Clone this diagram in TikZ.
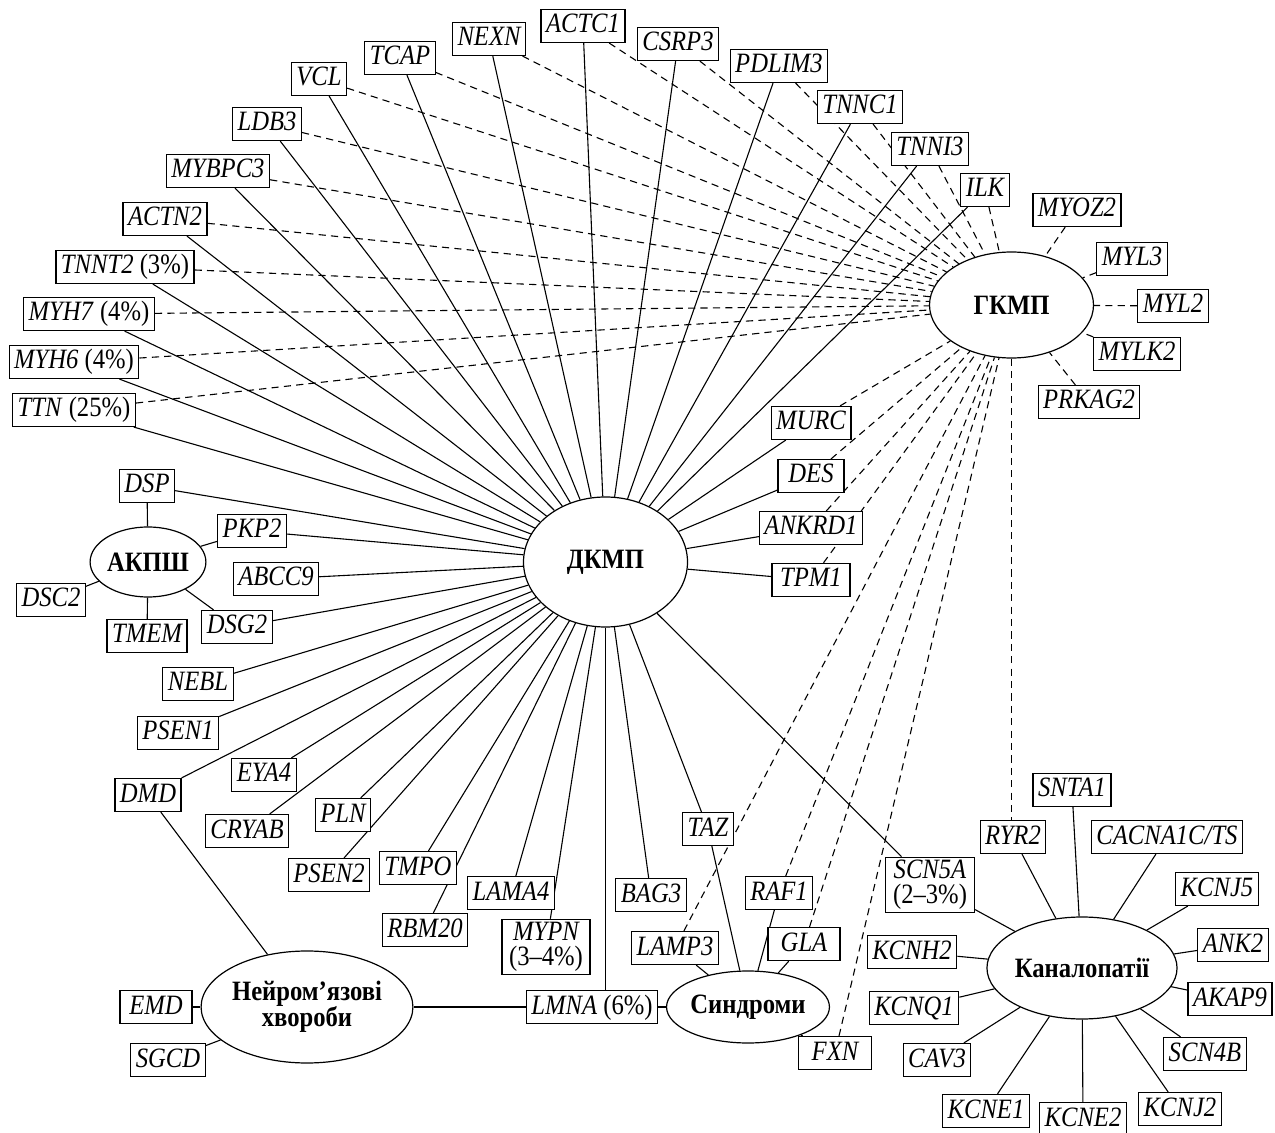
\documentclass[tikz,border=0pt]{standalone}
\usepackage{fontspec}
\setmainfont[FakeStretch=0.88]{Liberation Serif}
\usetikzlibrary{shapes.geometric,backgrounds}
\begin{document}
\begin{tikzpicture}[x=0.5pt,y=-0.5pt,
  gbase/.style={draw, line width=0.6pt, fill=white, font=\fontsize{14}{14.5}\selectfont\itshape,
    inner xsep=2.5pt, align=center},
  gene/.style={gbase, inner ysep=1.75pt, text height=10pt, text depth=3pt},
  gene2/.style={gbase, inner ysep=1.5pt},
  hub/.style={draw, ellipse, line width=0.6pt, fill=white, inner sep=0pt, align=center,
    font=\fontsize{14}{15}\selectfont\bfseries},
  link/.style={line width=0.55pt},
  hlink/.style={line width=0.55pt, dash pattern=on 3.6pt off 2.6pt}]
\useasboundingbox (0,0) rectangle (1275,1133);
% hubs
\node[hub, minimum width=82pt, minimum height=65pt] (DK) at (605.5,562) {ДКМП};
\node[hub, minimum width=82pt, minimum height=53pt] (GK) at (1011.5,305) {ГКМП};
\node[hub, minimum width=55pt, minimum height=35pt] (AK) at (148,562) {АКПШ};
\node[hub, minimum width=83.5pt, minimum height=56pt] (NE) at (307,1007) {Нейром’язові\\[-2pt]хвороби};
\node[hub, minimum width=62pt, minimum height=36pt] (SY) at (748,1007) {Синдроми};
\node[hub, minimum width=83.5pt, minimum height=51pt] (KA) at (1082,968) {Каналопатії};
% top arc
\node[gene] (TNNT2) at (125,267) {TNNT2 \textup{(3\%)}};
\node[gene] (ACTN2) at (165,219) {ACTN2};
\node[gene] (MYBPC3) at (218,171) {MYBPC3};
\node[gene] (LDB3) at (267,124) {LDB3};
\node[gene] (VCL) at (319,79) {VCL};
\node[gene] (TCAP) at (400,58) {TCAP};
\node[gene] (NEXN) at (489,39) {NEXN};
\node[gene] (ACTC1) at (583,26) {ACTC1};
\node[gene] (CSRP3) at (678,44) {CSRP3};
\node[gene] (PDLIM3) at (779,66) {PDLIM3};
\node[gene] (TNNC1) at (860,107) {TNNC1};
\node[gene] (TNNI3) at (930,149) {TNNI3};
\node[gene] (ILK) at (985,190) {ILK};
\node[gene] (MYOZ2) at (1077,210) {MYOZ2};
\node[gene] (MYL3) at (1132,259) {MYL3};
\node[gene] (MYL2) at (1173,306) {MYL2};
\node[gene] (MYLK2) at (1137,354) {MYLK2};
\node[gene] (PRKAG2) at (1089,402) {PRKAG2};
\node[gene] (MYH7) at (89,314) {MYH7 \textup{(4\%)}};
\node[gene] (MYH6) at (74,362) {MYH6 \textup{(4\%)}};
\node[gene] (TTN) at (74,410) {TTN \textup{(25\%)}};
% left
\node[gene] (DSP) at (147,486) {DSP};
\node[gene] (PKP2) at (252,531) {PKP2};
\node[gene] (ABCC9) at (276,579) {ABCC9};
\node[gene] (DSC2) at (51,600) {DSC2};
\node[gene] (TMEM) at (147,636) {TMEM};
\node[gene] (DSG2) at (237,627) {DSG2};
\node[gene] (NEBL) at (198,684) {NEBL};
\node[gene] (PSEN1) at (178,733) {PSEN1};
\node[gene] (DMD) at (148,795) {DMD};
\node[gene] (EYA4) at (264,775) {EYA4};
\node[gene] (CRYAB) at (247,831) {CRYAB};
\node[gene] (PLN) at (343,815) {PLN};
\node[gene] (PSEN2) at (329,875) {PSEN2};
\node[gene] (TMPO) at (418,868) {TMPO};
\node[gene] (LAMA4) at (511,893) {LAMA4};
\node[gene] (RBM20) at (425,930) {RBM20};
\node[gene2, minimum width=44pt] (MYPN) at (546,947) {MYPN\\[-2pt]\textup{(3--4\%)}};
\node[gene, minimum width=36pt] (EMD) at (156,1007) {EMD};
\node[gene] (SGCD) at (168,1060) {SGCD};
\node[gene] (LMNA) at (592,1007) {LMNA \textup{(6\%)}};
% bottom middle
\node[gene] (BAG3) at (651,895) {BAG3};
\node[gene] (TAZ) at (708,829) {TAZ};
\node[gene] (LAMP3) at (675,948) {LAMP3};
\node[gene] (RAF1) at (779,893) {RAF1};
\node[gene, minimum width=36pt] (GLA) at (804,944) {GLA};
\node[gene, minimum width=36.5pt] (FXN) at (835,1053) {FXN};
% right of DKMP
\node[gene, minimum width=39pt] (MURC) at (811,423) {MURC};
\node[gene, minimum width=33pt] (DES) at (811,476) {DES};
\node[gene] (ANKRD1) at (811,528) {ANKRD1};
\node[gene, minimum width=39pt] (TPM1) at (811,580) {TPM1};
% channelopathies
\node[gene] (SNTA1) at (1072,790) {SNTA1};
\node[gene] (RYR2) at (1013,837) {RYR2};
\node[gene] (CACNA) at (1167,837) {CACNA1C/TS};
\node[gene2, minimum width=44.5pt] (SCN5A) at (930,885) {SCN5A\\[-2pt]\textup{(2--3\%)}};
\node[gene] (KCNJ5) at (1217,889) {KCNJ5};
\node[gene] (KCNH2) at (912,952) {KCNH2};
\node[gene] (ANK2) at (1233,945) {ANK2};
\node[gene] (KCNQ1) at (914,1008) {KCNQ1};
\node[gene] (AKAP9) at (1230,999) {AKAP9};
\node[gene] (CAV3) at (937,1060) {CAV3};
\node[gene] (SCN4B) at (1205,1054) {SCN4B};
\node[gene] (KCNE1) at (986,1111) {KCNE1};
\node[gene] (KCNE2) at (1083,1119) {KCNE2};
\node[gene] (KCNJ2) at (1180,1109) {KCNJ2};
\begin{pgfonlayer}{background}
\foreach \g in {TNNT2,ACTN2,MYBPC3,LDB3,VCL,TCAP,NEXN,ACTC1,CSRP3,PDLIM3,TNNC1,TNNI3,ILK,MYH7,MYH6,TTN,DSP,PKP2,ABCC9,DSG2,NEBL,PSEN1,DMD,EYA4,CRYAB,PLN,PSEN2,TMPO,RBM20,LAMA4,MYPN,BAG3,TAZ,MURC,DES,ANKRD1,TPM1,SCN5A}
  \draw[link] (\g) -- (DK);
\draw[link] (DK.south) -- (DK.south |- LMNA.north);
\foreach \g in {TNNT2,ACTN2,MYBPC3,LDB3,VCL,TCAP,NEXN,ACTC1,CSRP3,PDLIM3,TNNC1,TNNI3,ILK,MYOZ2,MYL3,MYL2,MYLK2,PRKAG2,MYH7,MYH6,TTN,MURC,DES,ANKRD1,TPM1,LAMP3,RAF1,GLA,FXN}
  \draw[hlink] (\g) -- (GK);
\draw[hlink] (GK.south) -- (GK.south |- RYR2.north);
\foreach \g in {DSP,PKP2,DSC2,TMEM,DSG2}
  \draw[link] (\g) -- (AK);
\foreach \g in {DMD,EMD,SGCD,LMNA}
  \draw[link] (\g) -- (NE);
\foreach \g in {LMNA,LAMP3,TAZ,RAF1,GLA,FXN}
  \draw[link] (\g) -- (SY);
\foreach \g in {SCN5A,RYR2,SNTA1,CACNA,KCNJ5,ANK2,AKAP9,SCN4B,KCNJ2,KCNE2,KCNE1,CAV3,KCNQ1,KCNH2}
  \draw[link] (\g) -- (KA);
\end{pgfonlayer}
\end{tikzpicture}
\end{document}
